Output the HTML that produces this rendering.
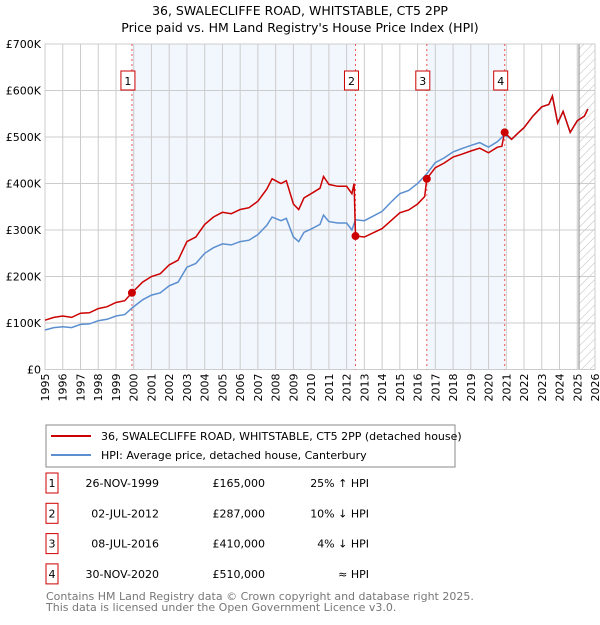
<!DOCTYPE html>
<html><head><meta charset="utf-8"><style>
body{margin:0;background:#fff;width:600px;height:620px;overflow:hidden;font-family:"Liberation Sans","DejaVu Sans",sans-serif}
svg text{font-family:"DejaVu Sans","Liberation Sans",sans-serif}
</style></head><body>
<svg id="c" width="600" height="620" xmlns="http://www.w3.org/2000/svg">
<text x="300" y="15" text-anchor="middle" font-size="12.5">36, SWALECLIFFE ROAD, WHITSTABLE, CT5 2PP</text>
<text x="300" y="32" text-anchor="middle" font-size="12.5">Price paid vs. HM Land Registry's House Price Index (HPI)</text>
<defs><pattern id="h" width="6" height="6" patternUnits="userSpaceOnUse" patternTransform="rotate(45)"><line x1="0" y1="0" x2="0" y2="6" stroke="#bbb" stroke-width="1"/></pattern></defs>
<g id="plot"></g>
<rect x="46" y="425" width="409" height="42" fill="#fff" stroke="#888"/>
<line x1="51" y1="436" x2="91" y2="436" stroke="#cc0000" stroke-width="2"/>
<text x="101" y="440" font-size="11">36, SWALECLIFFE ROAD, WHITSTABLE, CT5 2PP (detached house)</text>
<line x1="51" y1="455" x2="91" y2="455" stroke="#5b8fd0" stroke-width="2"/>
<text x="101" y="459" font-size="11">HPI: Average price, detached house, Canterbury</text>
<g id="tbl" font-size="11"></g>
<text x="46" y="600" font-size="11" fill="#777">Contains HM Land Registry data © Crown copyright and database right 2025.</text>
<text x="46" y="611" font-size="11" fill="#777">This data is licensed under the Open Government Licence v3.0.</text>
</svg>
<script>
const yTicks=[0,100,200,300,400,500,600,700];
const yTickLabels=["£0","£100K","£200K","£300K","£400K","£500K","£600K","£700K"];
const years=[1995,1996,1997,1998,1999,2000,2001,2002,2003,2004,2005,2006,2007,2008,2009,2010,2011,2012,2013,2014,2015,2016,2017,2018,2019,2020,2021,2022,2023,2024,2025,2026];
const hpiT=[1995,1995.5,1996,1996.5,1997,1997.5,1998,1998.5,1999,1999.5,1999.9,2000.5,2001,2001.5,2002,2002.5,2003,2003.5,2004,2004.5,2005,2005.5,2006,2006.5,2007,2007.5,2007.8,2008.3,2008.6,2009,2009.3,2009.6,2010,2010.5,2010.7,2011,2011.5,2012,2012.3,2012.5,2013,2013.5,2014,2014.5,2015,2015.5,2016,2016.5,2017,2017.5,2018,2018.5,2019,2019.5,2020,2020.5,2020.9,2021.3,2021.7,2022,2022.5,2023,2023.4,2023.6,2023.9,2024.2,2024.6,2025,2025.4,2025.6];
const hpiV=[85,90,92,90,97,98,105,108,115,118,132,150,160,165,180,188,220,228,250,262,270,268,275,278,290,310,328,320,325,285,275,295,302,312,332,318,315,315,300,322,320,330,340,360,378,385,400,420,445,455,468,475,482,488,478,490,505,495,510,520,545,565,570,588,530,555,510,535,545,560];
const priceT=[1995,1995.5,1996,1996.5,1997,1997.5,1998,1998.5,1999,1999.5,1999.9,2000.5,2001,2001.5,2002,2002.5,2003,2003.5,2004,2004.5,2005,2005.5,2006,2006.5,2007,2007.5,2007.8,2008.3,2008.6,2009,2009.3,2009.6,2010,2010.5,2010.7,2011,2011.5,2012,2012.3,2012.42,2012.5,2013,2013.5,2014,2014.5,2015,2015.5,2016,2016.4,2016.52,2017,2017.5,2018,2018.5,2019,2019.5,2020,2020.5,2020.75,2020.9,2021.3,2021.7,2022,2022.5,2023,2023.4,2023.6,2023.9,2024.2,2024.6,2025,2025.4,2025.6];
const priceV=[106,112,115,112,121,122,131,135,144,148,165,188,200,206,225,235,275,285,312,328,338,335,344,348,362,388,410,400,406,356,344,369,378,390,415,398,394,394,378,400,287,285,294,303,320,337,343,356,372,410,434,444,457,463,470,476,466,478,480,510,495,510,520,545,565,570,588,530,555,510,535,545,560];
const saleT=[1999.9,2012.5,2016.52,2020.91];
const saleV=[165,287,410,510];
const saleLabels=["1","2","3","4"];
const saleDates=["26-NOV-1999","02-JUL-2012","08-JUL-2016","30-NOV-2020"];
const salePrices=["£165,000","£287,000","£410,000","£510,000"];
const saleHpi=["25% ↑ HPI","10% ↓ HPI","4% ↓ HPI","≈ HPI"];
const X0=45,X1=595,Y0=369.5,Y1=44;
const xs=t=>X0+(t-1995)/(2026-1995)*(X1-X0);
const ys=v=>Y0-v/700*(Y0-Y1);
const NS="http://www.w3.org/2000/svg";
const g=document.getElementById('plot');
function mk(tag,at,par){const e=document.createElementNS(NS,tag);for(const k in at)e.setAttribute(k,at[k]);(par||g).appendChild(e);return e;}
let r;
r=mk('rect',{x:xs(saleT[0]),y:Y1,width:xs(saleT[1])-xs(saleT[0]),height:Y0-Y1,fill:'#f2f6fd'});


r=mk('rect',{x:xs(saleT[2]),y:Y1,width:xs(saleT[3])-xs(saleT[2]),height:Y0-Y1,fill:'#f2f6fd'});


r=mk('rect',{x:xs(2025.1),y:Y1,width:X1-xs(2025.1),height:Y0-Y1,fill:'url(#h)'});


years.forEach((y,i)=>{
 const l=mk('line',{x1:xs(y),x2:xs(y),y1:Y1,y2:Y0,stroke:'#ccc','stroke-width':1});
 
 
 const t=mk('text',{x:0,y:0,'font-size':11,'text-anchor':'end',transform:`translate(${xs(y)+4},${Y0+4}) rotate(-90)`});
 t.textContent=y;
 
 
});
yTicks.forEach((v,i)=>{
 const l=mk('line',{x1:X0,x2:X1,y1:ys(v),y2:ys(v),stroke:'#ccc','stroke-width':1});
 
 
 const t=mk('text',{x:X0-4,y:ys(v)+4,'font-size':11,'text-anchor':'end'});
 t.textContent=yTickLabels[i];
 
 
});
r=mk('line',{x1:xs(2025.1),x2:xs(2025.1),y1:Y1,y2:Y0,stroke:'#888','stroke-width':1});


r=mk('rect',{x:X0,y:Y1,width:X1-X0,height:Y0-Y1,fill:'none',stroke:'#ccc'});


saleT.forEach((t,i)=>{
 const l=mk('line',{x1:xs(t),x2:xs(t),y1:Y1,y2:Y0,stroke:'#e55','stroke-width':1,'stroke-dasharray':'2,3'});
 
 
 const b=mk('rect',{x:xs(t)-11,y:71,width:14,height:19,fill:'#fff',stroke:'#c00'});
 
 
 const tx=mk('text',{x:xs(t)-4,y:85,'font-size':11,'text-anchor':'middle'});
 tx.textContent=saleLabels[i];
 
 
});
const hp=mk('path',{d:hpiT.map((t,i)=>(i?'L':'M')+xs(t).toFixed(1)+','+ys(hpiV[i]).toFixed(1)).join(''),fill:'none',stroke:'#5b8fd0','stroke-width':1.5});


const pp=mk('path',{d:priceT.map((t,i)=>(i?'L':'M')+xs(t).toFixed(1)+','+ys(priceV[i]).toFixed(1)).join(''),fill:'none',stroke:'#cc0000','stroke-width':1.5});


saleT.forEach((t,i)=>{
 const c=mk('circle',{cx:xs(t),cy:ys(saleV[i]),r:4,fill:'#cc0000'});
 
 
});
const tb=document.getElementById('tbl');
saleT.forEach((t,i)=>{
 const y=483+i*30.3;
 const b=mk('rect',{x:46,y:y-10,width:12,height:20,fill:'#fff',stroke:'#c00'},tb);
 
 
 const cells=[[52,'middle',saleLabels[i],'table-row-number'],[159,'end',saleDates[i],'table-date'],[265,'end',salePrices[i],'table-price'],[369,'end',saleHpi[i],'table-hpi-diff']];
 cells.forEach(c=>{const e=mk('text',{x:c[0],y:y+4,'text-anchor':c[1]},tb);e.textContent=c[2];
 
 });
});
</script>
</body></html>
